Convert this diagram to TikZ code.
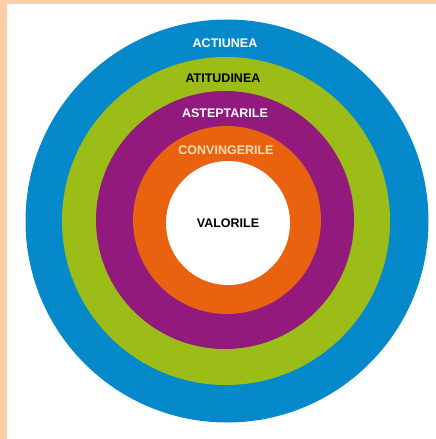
\documentclass[tikz,border=0pt]{standalone}
\usepackage{fontspec}
\setmainfont{Liberation Sans}
\definecolor{peach}{HTML}{FBCFA8}
\definecolor{ringblue}{HTML}{0689CB}
\definecolor{ringgreen}{HTML}{9CBC17}
\definecolor{ringpurple}{HTML}{921A7D}
\definecolor{ringorange}{HTML}{E8620F}
\definecolor{cream}{HTML}{F9DDB8}
\tikzset{
  ringlabel/.style={font=\bfseries\fontsize{12.5}{14}\selectfont,inner sep=0pt}
}
\begin{document}
\begin{tikzpicture}[x=1pt,y=-1pt]
  \fill[color=peach] (0,0) rectangle +(436,439);
  \fill[color=white] (7,4) rectangle (436,439);
  \fill[color=ringblue] (227,221) circle (201.5);
  \fill[color=ringgreen] (226,221) circle (164);
  \fill[color=ringpurple] (225,220) circle (129);
  \fill[color=ringorange] (227,220) circle (94);
  \fill[color=white] (228,223) circle (62);
  \node[ringlabel,color=white] (actiunea) at (225,43) {ACTIUNEA};
  \node[ringlabel,color=black] (atitudinea) at (223,78) {ATITUDINEA};
  \node[ringlabel,color=white] (asteptarile) at (225,113) {ASTEPTARILE};
  \node[ringlabel,color=cream] (convingerile) at (226,150) {CONVINGERILE};
  \node[ringlabel,color=black] (valorile) at (228,223) {VALORILE};
\end{tikzpicture}
\end{document}
